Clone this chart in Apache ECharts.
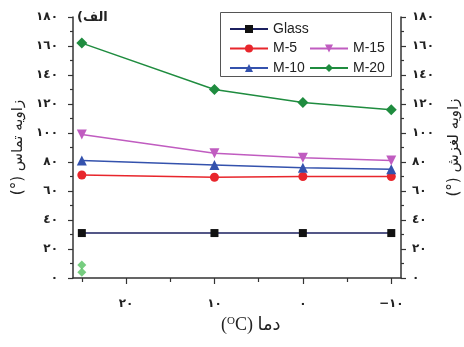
<!DOCTYPE html>
<html><head><meta charset="utf-8">
<script src="https://cdn.jsdelivr.net/npm/echarts@6/dist/echarts.min.js"></script>
<style>html,body{margin:0;padding:0;background:#fff}#c{width:464px;height:347px}</style>
</head><body><div id="c"></div>
<script>
const temps = [25, 10, 0, -10];
const glass = [31, 31, 31, 31];
const m5 = [71, 69.5, 70, 70];
const m10 = [81, 78, 76, 75];
const m15 = [99, 86, 83, 81];
const m20 = [162, 130, 121, 116];
const m20SlideTemps = [25, 25];
const m20Slide = [9, 4];
const xMajorTicks = [20, 10, 0, -10];
const xMinorTicks = [25, 15, 5, -5];

const AD = ['٠','١','٢','٣','٤','٥','٦','٧','٨','٩'];
function ar(v){ const s = String(Math.abs(v)).split('').map(c => AD[+c]).join(''); return v < 0 ? '−' + s : s; }
function pts(ys, xs){ return (xs || temps).map((t, i) => [t, ys[i]]); }

const chart = echarts.init(document.getElementById('c'), null, {renderer:'canvas'});
const lblFont = {fontFamily:'DejaVu Sans', fontWeight:'bold', fontSize:12, color:'#222'};
const yBase = {
  type:'value', min:0, max:180, interval:20,
  axisLine:{show:true, onZero:false, lineStyle:{color:'#333', width:1.5}},
  axisTick:{show:true, length:5, lineStyle:{color:'#333', width:1.2}},
  minorTick:{show:true, splitNumber:2, length:3, lineStyle:{color:'#333', width:1.2}},
  splitLine:{show:false},
  axisLabel:Object.assign({formatter:v => ar(v)}, lblFont),
  nameLocation:'middle', nameRotate:90,
  nameTextStyle:{fontFamily:'DejaVu Sans', fontSize:15, color:'#222'}
};
const mk = (name, data, color, symbol, size, rot, lineColor) => ({
  name, type:'line', data:pts(data), symbol, symbolSize:size, symbolRotate:rot||0,
  itemStyle:{color}, lineStyle:{color:lineColor||color, width:1.5}, z:3
});

chart.setOption({
  animation:false,
  grid:{left:73, right:63, top:17, bottom:69, containLabel:false, outerBoundsMode:'none'},
  xAxis:[{
    type:'value', inverse:true, min:-11.1, max:26,
    axisLine:{show:true, onZero:false, lineStyle:{color:'#333', width:1.5}},
    axisTick:{show:true, length:6, customValues:xMajorTicks, lineStyle:{color:'#333', width:1.2}},
    axisLabel:Object.assign({customValues:xMajorTicks, formatter:v => ar(v), margin:20}, lblFont),
    splitLine:{show:false}
  },{
    type:'value', inverse:true, min:-11.1, max:26, position:'bottom',
    axisLine:{show:false, onZero:false},
    axisTick:{show:true, length:4, customValues:xMinorTicks, lineStyle:{color:'#333', width:1.2}},
    axisLabel:{show:false}, splitLine:{show:false}
  }],
  yAxis:[
    Object.assign({}, yBase, {position:'left', name:'(°) زاویه تماس', nameGap:46,
      axisLabel:Object.assign({}, yBase.axisLabel, {margin:15})}),
    Object.assign({}, yBase, {position:'right', name:'(°) زاویه لغزش', nameGap:46,
      axisLabel:Object.assign({}, yBase.axisLabel, {margin:11})})
  ],
  legend:[
    {data:['Glass','M-5','M-10'], orient:'vertical', left:224, top:17, itemWidth:38, itemHeight:10, itemGap:5.5,
     textStyle:{fontFamily:'Liberation Sans', fontSize:14, color:'#222'}},
    {data:['M-15','M-20'], orient:'vertical', left:304, top:36.5, itemWidth:38, itemHeight:10, itemGap:5.5,
     textStyle:{fontFamily:'Liberation Sans', fontSize:14, color:'#222'}}
  ],
  graphic:[
    {type:'rect', shape:{x:220.5, y:12.5, width:171, height:64}, style:{fill:'none', stroke:'#555', lineWidth:1}, z:10},
    {type:'text', left:77, top:11, style:{text:'(الف', font:'bold 13px "DejaVu Sans"', fill:'#222'}},
    {type:'text', left:221, top:316, style:{text:'({s|O}C) دما', font:'18px "Liberation Serif", "DejaVu Sans"', fill:'#222',
      rich:{s:{fontSize:11, fontFamily:'Liberation Serif', verticalAlign:'top', fill:'#222'}}}}
  ],
  series:[
    mk('Glass', glass, '#111', 'rect', 8, 0, '#1c2060'),
    mk('M-5', m5, '#e8262c', 'circle', 9),
    mk('M-10', m10, '#3452ad', 'triangle', 10),
    mk('M-15', m15, '#c05cc0', 'triangle', 10, 180),
    mk('M-20', m20, '#1f8c3f', 'diamond', 11),
    {name:'M-20 slide', type:'scatter', data:pts(m20Slide, m20SlideTemps), symbol:'diamond', symbolSize:9,
     itemStyle:{color:'#55c060', opacity:0.8}, z:2}
  ]
});
</script></body></html>
